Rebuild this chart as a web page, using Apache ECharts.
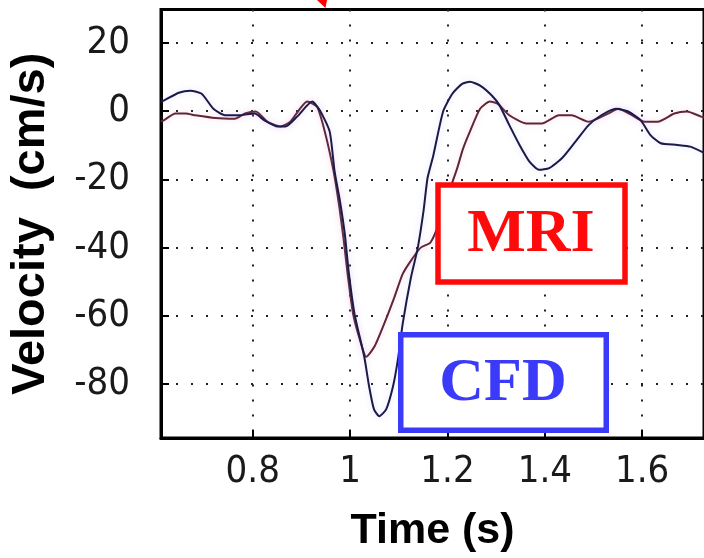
<!DOCTYPE html>
<html>
<head>
<meta charset="utf-8">
<script src="https://cdn.jsdelivr.net/npm/echarts@6/dist/echarts.min.js"></script>
<style>
html,body{margin:0;padding:0;background:#fff;}
#chart{width:704px;height:558px;}
</style>
</head>
<body>
<div id="chart"></div>
<script>
// ---- data ----
const cfdTime = [0.611,0.617,0.648,0.672,0.695,0.719,0.743,0.770,0.804,0.824,0.851,0.867,0.891,0.922,0.938,0.958,0.968,0.979,0.989,0.997,1.009,1.029,1.039,1.049,1.060,1.074,1.088,1.098,1.108,1.125,1.139,1.151,1.159,1.171,1.191,1.210,1.230,1.246,1.267,1.291,1.307,1.327,1.348,1.368,1.388,1.409,1.435,1.463,1.490,1.516,1.546,1.571,1.597,1.617,1.638,1.672,1.699,1.727];
const cfdVel  = [2.8,3.1,5.4,6.0,5.1,0.7,-1.2,-1.2,-0.7,-2.7,-4.5,-4.5,-1.6,2.8,0.2,-6,-17.6,-26.3,-36,-47,-59.4,-72,-80.7,-87.4,-89.4,-87.4,-80.7,-72.9,-62.3,-48.7,-40,-29,-19.6,-12.9,-0.1,5.1,8,8.6,7.5,4.6,1.7,-4.1,-9.9,-14.7,-17.2,-16.7,-13.8,-8.9,-4.1,-1.2,0.7,-0.1,-2.7,-7,-9.4,-9.9,-10.4,-12.2];
const mriTime = [0.611,0.617,0.641,0.662,0.682,0.723,0.763,0.784,0.806,0.830,0.857,0.877,0.912,0.932,0.948,0.966,0.978,0.987,0.995,1.006,1.020,1.033,1.050,1.070,1.091,1.108,1.125,1.145,1.165,1.185,1.212,1.220,1.232,1.246,1.267,1.287,1.303,1.327,1.362,1.394,1.429,1.455,1.490,1.530,1.551,1.577,1.605,1.632,1.666,1.692,1.721,1.727];
const mriVel  = [-3,-2.7,-0.7,-0.7,-1.2,-2.0,-2.2,-0.7,-0.1,-3.1,-4.5,-3.1,2.8,1.3,-6,-17.6,-28.3,-38,-48,-59.4,-67,-72,-69,-62.3,-54.5,-47.7,-43.8,-40,-38.5,-32,-20,-16.7,-11,-6,0.7,2.8,2.2,-1.2,-3.6,-3.6,-1.2,-1.2,-3.1,-0.7,0.7,-1,-3.1,-3.1,-0.7,-0.1,-1.6,-1.8];
const xTicks = [0.8, 1.0, 1.2, 1.4, 1.6];
const yTicks = [-80, -60, -40, -20, 0, 20];
const xTitle = 'Time (s)';
const yTitle = 'Velocity  (cm/s)';
const mriLabel = 'MRI';
const cfdLabel = 'CFD';

const zip = (a, b) => a.map((t, i) => [t, b[i]]);

const tickFont = "'Liberation Sans Narrow','Arial Narrow','DejaVu Sans Condensed','Liberation Sans',sans-serif";
const gridDots = { type: [2, 13], color: '#222', width: 2 };

const chart = echarts.init(document.getElementById('chart'), null, { renderer: 'canvas' });
chart.setOption({
  animation: false,
  backgroundColor: '#fff',
  grid: { left: 157, top: 9.5, right: -3, bottom: 115.3, show: true, borderColor: '#000', borderWidth: 3, backgroundColor: '#fff' },
  xAxis: {
    type: 'value', min: 0.6114, max: 1.727,
    name: xTitle, nameLocation: 'middle', nameGap: 72,
    nameTextStyle: { fontFamily: 'Liberation Sans', fontWeight: 'bold', fontSize: 43, color: '#000' },
    axisLine: { show: true, onZero: false, lineStyle: { color: '#000', width: 3 } },
    axisTick: { show: true, inside: true, length: 8, customValues: xTicks, lineStyle: { color: '#000', width: 2 } },
    axisLabel: { customValues: xTicks, margin: 15, fontFamily: tickFont, fontSize: 38, color: '#1a1a1a' },
    splitLine: { show: true, lineStyle: gridDots }
  },
  yAxis: {
    type: 'value', min: -95.8, max: 29.8,
    name: yTitle, nameLocation: 'middle', nameGap: 106, nameRotate: 90,
    nameTextStyle: { fontFamily: 'Liberation Sans', fontWeight: 'bold', fontSize: 47, color: '#000' },
    axisLine: { show: true, onZero: false, lineStyle: { color: '#000', width: 3 } },
    axisTick: { show: true, inside: true, length: 8, customValues: yTicks, lineStyle: { color: '#000', width: 2 } },
    axisLabel: { customValues: yTicks, margin: 31, fontFamily: tickFont, fontSize: 38, color: '#1a1a1a' },
    splitLine: { show: true, lineStyle: gridDots }
  },
  series: [
    { name: 'MRI', type: 'line', data: zip(mriTime, mriVel), showSymbol: false, smooth: 0.2,
      lineStyle: { color: '#5e2636', width: 2, shadowColor: 'rgba(255,140,190,0.35)', shadowBlur: 6 }, z: 3 },
    { name: 'CFD', type: 'line', data: zip(cfdTime, cfdVel), showSymbol: false, smooth: 0.2,
      lineStyle: { color: '#1b1a48', width: 2, shadowColor: 'rgba(160,160,255,0.35)', shadowBlur: 6 }, z: 4 }
  ],
  graphic: [
    { type: 'rect', z: 100, shape: { x: 438, y: 185, width: 187, height: 97 },
      style: { fill: '#fff', stroke: '#ff0a0a', lineWidth: 5.5 } },
    { type: 'text', z: 101, x: 531, y: 235,
      style: { text: mriLabel, fill: '#ff0a0a', font: "bold 62px 'Liberation Serif'", align: 'center', verticalAlign: 'middle' } },
    { type: 'rect', z: 100, shape: { x: 400.75, y: 334.75, width: 205.5, height: 95.5 },
      style: { fill: '#fff', stroke: '#3a3af8', lineWidth: 5.5 } },
    { type: 'text', z: 101, x: 503, y: 384,
      style: { text: cfdLabel, fill: '#3a3af8', font: "bold 62px 'Liberation Serif'", align: 'center', verticalAlign: 'middle' } },
    { type: 'polygon', z: 100, shape: { points: [[317, 0], [327, 0], [325.5, 8]] }, style: { fill: '#ff0000' } }
  ]
});
</script>
</body>
</html>
